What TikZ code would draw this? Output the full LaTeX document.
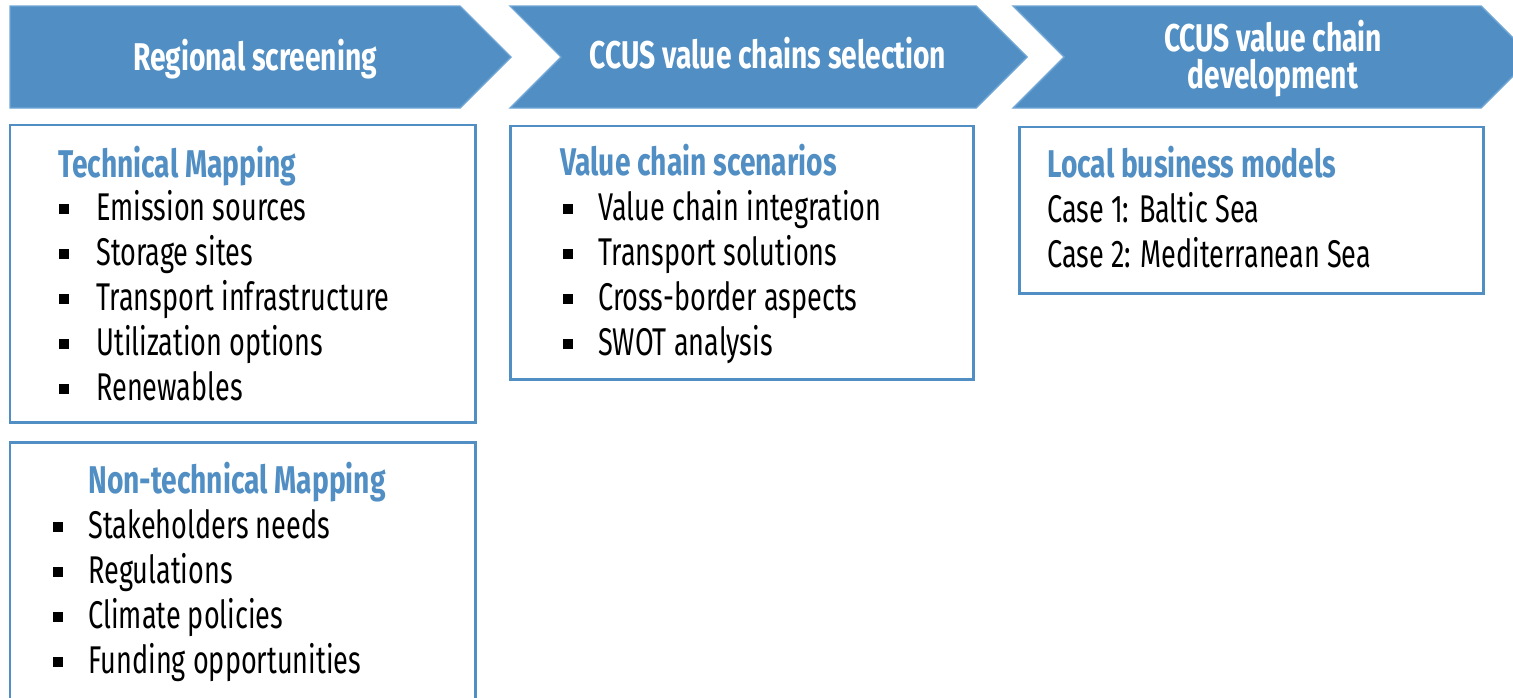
\documentclass[tikz,border=0pt]{standalone}
\usepackage{fontspec}
\setmainfont[FakeStretch=0.70, BoldFeatures={FakeStretch=0.73}]{Fira Sans}
\usepackage{tikz}
\definecolor{ccusblue}{RGB}{80,142,195}
\definecolor{ccusedge}{RGB}{112,166,214}

\begin{document}
\begin{tikzpicture}[x=0.02cm, y=-0.02cm,
  stage/.style={fill=ccusblue, draw=ccusedge, line width=0.8pt},
  stagetext/.style={text=white, font=\fontsize{22}{21}\selectfont\bfseries, align=center, inner sep=0pt},
  panel/.style={draw=ccusblue, line width=1.7pt},
  heading/.style={anchor=base west, text=ccusblue, font=\fontsize{22}{26}\selectfont\bfseries, inner sep=0pt},
  item/.style={anchor=base west, font=\fontsize{22}{26}\selectfont, inner sep=0pt},
  bullet/.style={rectangle, fill=black, inner sep=0pt, minimum size=0.19cm}]
  \useasboundingbox (0,0) rectangle (1513,697);
  \clip (0,0) rectangle (1513,697);

  % Stages
  \fill[stage] (10,6) -- (460,6) -- (511,57) -- (460,108) -- (10,108) -- cycle;
  \node[stagetext, anchor=base] (S1) at (255,70) {Regional screening};

  \fill[stage] (510,6) -- (976,6) -- (1027,57) -- (976,108) -- (510,108) -- (561,57) -- cycle;
  \node[stagetext, anchor=base] (S2) at (768,68) {CCUS value chains selection};

  \fill[stage] (1013,6) -- (1481,6) -- (1532,57) -- (1481,108) -- (1013,108) -- (1064,57) -- cycle;
  \node[stagetext] (S3) at (1273,59) {CCUS value chain\\development};

  % Technical mapping
  \draw[panel] (10,125) rectangle (475,422);
  \node[heading] (TM) at (58,177) {Technical Mapping};
  \foreach \txt [count=\i] in {Emission sources, Storage sites, Transport infrastructure, Utilization options, Renewables} {
    \node[bullet] (TB\i) at (64,164+\i*45) {};
    \node[item] (TI\i) at (96,175+\i*45) {\txt};
  }

  % Non-technical mapping
  \draw[panel] (10,442) rectangle (475,720);
  \node[heading] (NM) at (88,493) {Non-technical Mapping};
  \foreach \txt [count=\i] in {Stakeholders needs, Regulations, Climate policies, Funding opportunities} {
    \node[bullet] (NB\i) at (58,482+\i*45) {};
    \node[item] (NI\i) at (88,493+\i*45) {\txt};
  }

  % Value chain scenarios
  \draw[panel] (510,126) rectangle (973,379);
  \node[heading] (VS) at (560,175) {Value chain scenarios};
  \foreach \txt [count=\i] in {Value chain integration, Transport solutions, Cross-border aspects, SWOT analysis} {
    \node[bullet] (VB\i) at (568,164+\i*45) {};
    \node[item] (VI\i) at (598,175+\i*45) {\txt};
  }

  % Local business models
  \draw[panel] (1019,127) rectangle (1483,293);
  \node[heading] (LB) at (1047,177) {Local business models};
  \node[item] (C1) at (1047,222) {Case 1: Baltic Sea};
  \node[item] (C2) at (1047,267) {Case 2: Mediterranean Sea};

\end{tikzpicture}
\end{document}
